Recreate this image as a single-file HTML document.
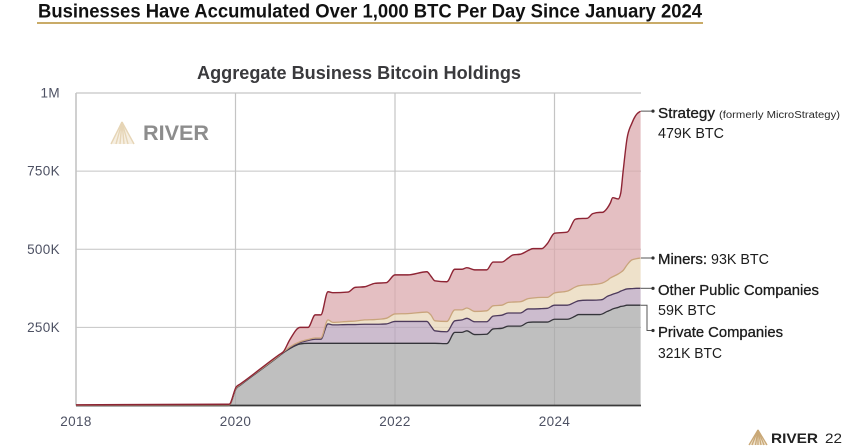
<!DOCTYPE html>
<html lang="en">
<head>
<meta charset="utf-8">
<title>Aggregate Business Bitcoin Holdings</title>
<style>
html,body{margin:0;padding:0;background:#fff;width:860px;height:448px;overflow:hidden}
svg{display:block}
text{font-family:"Liberation Sans",sans-serif}
.tick{font-size:13.5px;fill:#4d5163;letter-spacing:.35px}
.lab{font-size:14.5px;fill:#1c1c1c}
.med{stroke:#1c1c1c;stroke-width:.3px}
</style>
</head>
<body>
<svg id="chart" width="860" height="448" viewBox="0 0 860 448" xmlns="http://www.w3.org/2000/svg">
  <rect width="860" height="448" fill="#fff"/>
  <text x="38" y="17.5" font-size="19.5" font-weight="700" fill="#111" textLength="664" lengthAdjust="spacingAndGlyphs">Businesses Have Accumulated Over 1,000 BTC Per Day Since January 2024</text>
  <rect x="37" y="22" width="666" height="2" fill="#c9ab68"/>
  <text x="197" y="79" font-size="18" font-weight="700" fill="#3a3a3d" textLength="324" lengthAdjust="spacingAndGlyphs">Aggregate Business Bitcoin Holdings</text>

  <g id="grid"></g>
  <g id="areas"></g>
  <g id="lines"></g>
  <g id="leaders"></g>
  <g id="ticks"></g>

  <g>
    <polygon points="122,122 111,144 134,144" fill="#f6efe2"/>
    <g fill="none" stroke="#e6d5b6" stroke-width="1.4">
      <path d="M122 122 L111 144"/><path d="M122 122 L116 144"/><path d="M122 122 L120 144"/><path d="M122 122 L124 144"/><path d="M122 122 L128 144"/><path d="M122 122 L134 144"/>
    </g>
    <text x="143" y="140" font-size="21" font-weight="700" fill="#8d8d8d" textLength="66" lengthAdjust="spacingAndGlyphs">RIVER</text>
  </g>

  <g>
    <text class="lab med" x="658" y="118" textLength="57" lengthAdjust="spacingAndGlyphs">Strategy</text>
    <text x="719" y="118" font-size="10" fill="#2a2a2a" textLength="121" lengthAdjust="spacingAndGlyphs">(formerly MicroStrategy)</text>
    <text class="lab" x="658" y="138" textLength="66" lengthAdjust="spacingAndGlyphs">479K BTC</text>
    <text class="lab med" x="658" y="264" textLength="49" lengthAdjust="spacingAndGlyphs">Miners:</text>
    <text class="lab" x="711" y="264" textLength="58" lengthAdjust="spacingAndGlyphs">93K BTC</text>
    <text class="lab med" x="658" y="295" textLength="161" lengthAdjust="spacingAndGlyphs">Other Public Companies</text>
    <text class="lab" x="658" y="315" textLength="58" lengthAdjust="spacingAndGlyphs">59K BTC</text>
    <text class="lab med" x="658" y="337" textLength="125" lengthAdjust="spacingAndGlyphs">Private Companies</text>
    <text class="lab" x="658" y="358" textLength="64" lengthAdjust="spacingAndGlyphs">321K BTC</text>
  </g>

  <g>
    <polygon points="758,430 749,445 767,445" fill="#efe3cd"/>
    <g fill="none" stroke="#c9a877" stroke-width="1.3">
      <path d="M758 430 L749 445"/><path d="M758 430 L752 445"/><path d="M758 430 L755.500 445"/><path d="M758 430 L758 445"/><path d="M758 430 L761 445"/><path d="M758 430 L764 445"/><path d="M758 430 L767 445"/>
    </g>
    <text x="771" y="443" font-size="14" font-weight="700" fill="#222" textLength="47" lengthAdjust="spacingAndGlyphs">RIVER</text>
    <text x="825" y="443" font-size="14" fill="#222" textLength="17" lengthAdjust="spacingAndGlyphs">22</text>
  </g>
</svg>
<script>
const dates = [
  2018.00,2019.87,2019.92,2020.01,2020.06,2020.55,2020.60,2020.68,2020.81,2020.91,2021.00,2021.07,
  2021.16,2021.22,2021.41,2021.50,2021.62,2021.75,2021.89,2022.00,2022.16,2022.40,
  2022.45,2022.50,2022.65,2022.75,2022.84,2022.90,2023.00,2023.15,2023.23,2023.34,
  2023.42,2023.48,2023.57,2023.67,2023.73,2023.84,2023.91,2024.00,2024.16,2024.26,
  2024.30,2024.41,2024.48,2024.57,2024.60,2024.66,2024.70,2024.73,2024.80,2024.83,
  2024.86,2024.91,2024.97,2025.03,2025.08
];
/* Cumulative stack levels, thousands of BTC */
const privateStack = [
  0,0,1,55,65,159,169,182,197,199,199,199,
  199,199,199,199,199,199,199,199,199,199,
  199,199,198,234,234,239,227,228,245,247,
  254,254,254,266,267,267,267,276,276,286,
  291,291,291,291,293,301,305,309,314,317,
  318,321,321,321,321
];
const otherPublicStack = [
  1,2,2,56,66,160,170,184,201,208,212,212,
  261,258,259,259,260,260,261,269,269,269,
  254,239,236,271,274,279,268,268,286,289,
  296,296,296,309,309,310,311,321,321,331,
  335,337,337,338,339,349,353,356,362,366,
  369,373,374,375,375
];
const minersStack = [
  1,2,2,57,67,161,171,187,204,211,216,216,
  274,266,269,270,274,275,279,293,294,299,
  290,271,269,306,306,312,301,303,319,321,
  330,331,332,342,344,346,346,360,366,379,
  383,386,387,390,392,400,408,412,421,426,
  432,450,466,470,472
];
const strategyStack = [
  2,4,4,60,69,163,172,210,250,250,290,290,
  364,361,363,378,380,391,393,418,418,428,
  414,399,396,436,436,441,434,434,459,459,
  472,482,484,496,502,502,518,551,555,596,
  598,599,614,618,618,631,648,665,661,679,
  748,855,903,932,942
];
const yTickValues = [250,500,750,1000];
const yTickLabels = ['250K','500K','750K','1M'];
const xTickValues = [2018,2020,2022,2024];
const xTickLabels = ['2018','2020','2022','2024'];

const SVGNS = 'http://www.w3.org/2000/svg';
const plotLeft = 76, plotRight = 641, plotBottom = 405.5;
function xScale(year){ return 76 + (year - 2018) * 79.75; }
function yScale(k){ return 405.5 - k * 0.3125; }
function make(tag, parentId){
  const el = document.createElementNS(SVGNS, tag);
  document.getElementById(parentId).appendChild(el);
  return el;
}
/* Monotone cubic tangents so the smoothed line never overshoots its values */
function tangents(xs, ys){
  const n = xs.length, s = [], t = [];
  for(let i = 0; i < n - 1; i++){ s.push((ys[i+1] - ys[i]) / (xs[i+1] - xs[i])); }
  for(let i = 1; i < n - 1; i++){
    const h0 = xs[i] - xs[i-1], h1 = xs[i+1] - xs[i];
    const p = (s[i-1] * h1 + s[i] * h0) / (h0 + h1);
    t[i] = (Math.sign(s[i-1]) + Math.sign(s[i])) * Math.min(Math.abs(s[i-1]), Math.abs(s[i]), 0.5 * Math.abs(p));
  }
  t[0] = s[0];
  t[n-1] = s[n-2];
  return t;
}
function f(v){ return v.toFixed(2); }
function linePath(vals){
  const xs = dates.map(xScale), ys = vals.map(yScale), t = tangents(xs, ys);
  let d = 'M' + f(xs[0]) + ' ' + f(ys[0]);
  for(let i = 0; i < xs.length - 1; i++){
    const h = (xs[i+1] - xs[i]) / 3;
    d += ' C' + f(xs[i] + h) + ' ' + f(ys[i] + t[i] * h) + ' ' + f(xs[i+1] - h) + ' ' + f(ys[i+1] - t[i+1] * h) + ' ' + f(xs[i+1]) + ' ' + f(ys[i+1]);
  }
  return d;
}
function areaPath(upper, lower){
  let d = linePath(upper);
  const xs = dates.map(xScale);
  if(!lower){
    return d + ' L' + f(xs[xs.length-1]) + ' ' + f(yScale(0)) + ' L' + f(xs[0]) + ' ' + f(yScale(0)) + ' Z';
  }
  const ys = lower.map(yScale), t = tangents(xs, ys);
  d += ' L' + f(xs[xs.length-1]) + ' ' + f(ys[ys.length-1]);
  for(let i = xs.length - 1; i > 0; i--){
    const h = (xs[i] - xs[i-1]) / 3;
    d += ' C' + f(xs[i] - h) + ' ' + f(ys[i] - t[i] * h) + ' ' + f(xs[i-1] + h) + ' ' + f(ys[i-1] + t[i-1] * h) + ' ' + f(xs[i-1]) + ' ' + f(ys[i-1]);
  }
  return d + ' Z';
}

/* Gridlines */
yTickValues.forEach(function(v){
  const g = make('line','grid');
  
  
  g.setAttribute('x1', plotLeft);
  g.setAttribute('x2', plotRight);
  g.setAttribute('y1', yScale(v));
  g.setAttribute('y2', yScale(v));
  g.setAttribute('stroke', v === 1000 ? '#cfcfcf' : '#c4c4c4');
  g.setAttribute('stroke-width', v === 1000 ? 1.6 : 1);
});
xTickValues.forEach(function(v){
  const g = make('line','grid');
  
  
  g.setAttribute('x1', xScale(v));
  g.setAttribute('x2', xScale(v));
  g.setAttribute('y1', yScale(1000));
  g.setAttribute('y2', plotBottom);
  g.setAttribute('stroke', '#c4c4c4');
  g.setAttribute('stroke-width', v === 2018 ? 1.6 : 1.2);
});

/* Stacked areas */
const privateArea = make('path','areas');


privateArea.setAttribute('d', areaPath(privateStack, null));
privateArea.setAttribute('fill', '#a9a9a9');
privateArea.setAttribute('fill-opacity', '0.75');

const otherArea = make('path','areas');


otherArea.setAttribute('d', areaPath(otherPublicStack, privateStack));
otherArea.setAttribute('fill', '#bba6be');
otherArea.setAttribute('fill-opacity', '0.75');

const minersArea = make('path','areas');


minersArea.setAttribute('d', areaPath(minersStack, otherPublicStack));
minersArea.setAttribute('fill', '#ead9bd');
minersArea.setAttribute('fill-opacity', '0.8');

const strategyArea = make('path','areas');


strategyArea.setAttribute('d', areaPath(strategyStack, minersStack));
strategyArea.setAttribute('fill', '#dba9ad');
strategyArea.setAttribute('fill-opacity', '0.75');

/* Baseline */
const baseline = make('line','lines');


baseline.setAttribute('x1', plotLeft);
baseline.setAttribute('x2', plotRight);
baseline.setAttribute('y1', plotBottom);
baseline.setAttribute('y2', plotBottom);
baseline.setAttribute('stroke', '#3a3a3a');
baseline.setAttribute('stroke-width', '1.8');

/* Series lines */
const privateLine = make('path','lines');


privateLine.setAttribute('d', linePath(privateStack));
privateLine.setAttribute('fill', 'none');
privateLine.setAttribute('stroke', '#34343a');
privateLine.setAttribute('stroke-width', '1.3');
privateLine.setAttribute('stroke-linejoin', 'round');

const otherLine = make('path','lines');


otherLine.setAttribute('d', linePath(otherPublicStack));
otherLine.setAttribute('fill', 'none');
otherLine.setAttribute('stroke', '#4d3a5c');
otherLine.setAttribute('stroke-width', '1.3');
otherLine.setAttribute('stroke-linejoin', 'round');

const minersLine = make('path','lines');


minersLine.setAttribute('d', linePath(minersStack));
minersLine.setAttribute('fill', 'none');
minersLine.setAttribute('stroke', '#c9a47c');
minersLine.setAttribute('stroke-width', '1.3');
minersLine.setAttribute('stroke-linejoin', 'round');

const strategyLine = make('path','lines');


strategyLine.setAttribute('d', linePath(strategyStack));
strategyLine.setAttribute('fill', 'none');
strategyLine.setAttribute('stroke', '#8e2434');
strategyLine.setAttribute('stroke-width', '1.4');
strategyLine.setAttribute('stroke-linejoin', 'round');

/* Leader lines from series ends to labels */
const last = dates.length - 1;
const leaderStarts = [strategyStack[last], minersStack[last], otherPublicStack[last]];
leaderStarts.forEach(function(v){
  const y = yScale(v);
  const ln = make('path','leaders');
  
  
  ln.setAttribute('d', 'M' + plotRight + ' ' + y + ' L653 ' + y);
  ln.setAttribute('fill', 'none');
  ln.setAttribute('stroke', '#555');
  ln.setAttribute('stroke-width', '1');
  const dot = make('circle','leaders');
  
  
  dot.setAttribute('cx', 653);
  dot.setAttribute('cy', y);
  dot.setAttribute('r', 1.6);
  dot.setAttribute('fill', '#333');
});
const privateLeader = make('path','leaders');


privateLeader.setAttribute('d', 'M' + plotRight + ' ' + yScale(privateStack[last]) + ' L647 ' + yScale(privateStack[last]) + ' L647 330.5 L653 330.5');
privateLeader.setAttribute('fill', 'none');
privateLeader.setAttribute('stroke', '#555');
privateLeader.setAttribute('stroke-width', '1');
const privateDot = make('circle','leaders');


privateDot.setAttribute('cx', 653);
privateDot.setAttribute('cy', 330.5);
privateDot.setAttribute('r', 1.6);
privateDot.setAttribute('fill', '#333');

/* Tick labels */
yTickValues.forEach(function(v,i){
  const t = make('text','ticks');
  
  
  t.setAttribute('class', 'tick');
  t.setAttribute('x', 60);
  t.setAttribute('y', yScale(v) + 4.5);
  t.setAttribute('text-anchor', 'end');
  t.textContent = yTickLabels[i];
});
xTickValues.forEach(function(v,i){
  const t = make('text','ticks');
  
  
  t.setAttribute('class', 'tick');
  t.setAttribute('x', xScale(v));
  t.setAttribute('y', 426);
  t.setAttribute('text-anchor', 'middle');
  t.textContent = xTickLabels[i];
});
</script>
</body>
</html>
